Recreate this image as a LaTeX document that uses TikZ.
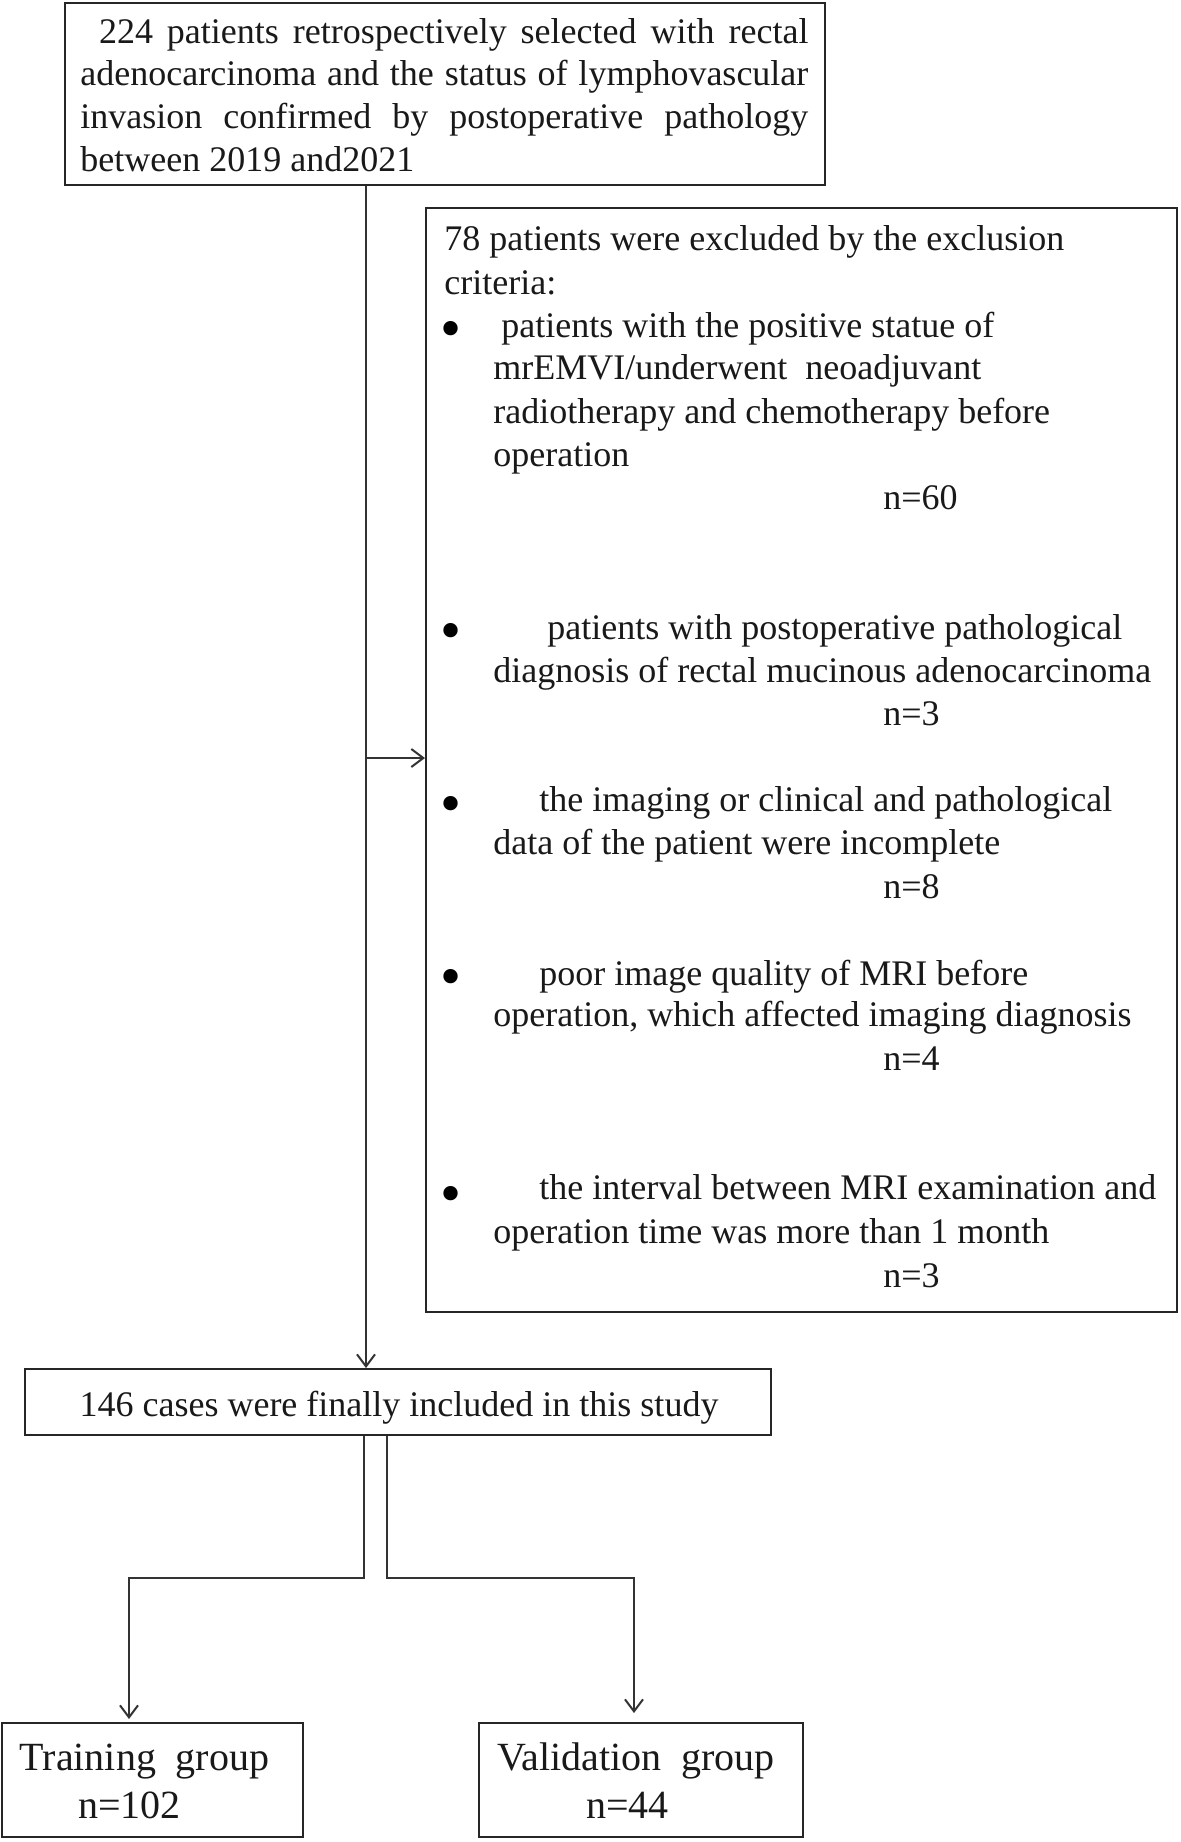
\documentclass[tikz,border=0pt]{standalone}
\usepackage{fontspec}
\setmainfont{Liberation Serif}
\usetikzlibrary{arrows.meta,calc}
\begin{document}
\begin{tikzpicture}[x=0.5pt,y=-0.5pt,
  box/.style={draw=black!85,line width=1pt,inner sep=0pt},
  txt/.style={anchor=base west,inner sep=0pt,text=black!90,font=\fontsize{18pt}{21.5pt}\selectfont},
  ctxt/.style={anchor=base,inner sep=0pt,text=black!90,font=\fontsize{18pt}{21.5pt}\selectfont},
  bigtxt/.style={anchor=base,inner sep=0pt,text=black!90,font=\fontsize{20pt}{24pt}\selectfont},
  bul/.style={anchor=center,inner sep=0pt,text=black,font=\fontsize{30pt}{30pt}\selectfont},
  arr/.style={draw=black!80,line width=1pt,-{Straight Barb[length=6pt,width=9pt]}}
]
\useasboundingbox (0,0) rectangle (1180,1842);
\fill[white] (0,0) rectangle (1180,1842);

% boxes
\node[box,minimum width=380pt,minimum height=91pt] (top) at (445,94) {};
\node[box,minimum width=375.5pt,minimum height=552pt] (excl) at (801.5,760) {};
\node[box,minimum width=373.2pt,minimum height=33pt] (inc) at (398,1402) {};
\node[box,minimum width=150.5pt,minimum height=57pt] (train) at (152.5,1780) {};
\node[box,minimum width=162pt,minimum height=57pt] (valid) at (641,1780) {};

% top box text
\node[txt] (t1) at (98.6,43) {\makebox[354.7pt][s]{224 patients retrospectively selected with rectal}};
\node[txt] (t2) at (80,85.5) {\makebox[364pt][s]{adenocarcinoma and the status of lymphovascular}};
\node[txt] (t3) at (80,128.5) {\makebox[364pt][s]{invasion confirmed by postoperative pathology}};
\node[txt] (t4) at (80,171.5) {between 2019 and2021};

% exclusion box text
\node[txt] (e1) at (444,250.5) {78 patients were excluded by the exclusion};
\node[txt] (e2) at (444,294.5) {criteria:};
\node[bul] (b1) at (451,335) {•};
\node[txt] (e3) at (501,337.5) {patients with the positive statue of};
\node[txt] (e4) at (493,379.5) {mrEMVI/underwent\ \ neoadjuvant};
\node[txt] (e5) at (493,423.5) {radiotherapy and chemotherapy before};
\node[txt] (e6) at (493,466.5) {operation};
\node[txt] (n1) at (883,509.5) {n=60};
\node[bul] (b2) at (451,637) {•};
\node[txt] (e7) at (547,639.5) {patients with postoperative pathological};
\node[txt] (e8) at (493,682.5) {diagnosis of rectal mucinous adenocarcinoma};
\node[txt] (n2) at (883,725.5) {n=3};
\node[bul] (b3) at (451,810) {•};
\node[txt] (e9) at (539,811) {the imaging or clinical and pathological};
\node[txt] (e10) at (493,854.5) {data of the patient were incomplete};
\node[txt] (n3) at (883,898) {n=8};
\node[bul] (b4) at (451,983) {•};
\node[txt] (e11) at (539,985.5) {poor image quality of MRI before};
\node[txt] (e12) at (493,1026.5) {operation, which affected imaging diagnosis};
\node[txt] (n4) at (883,1070.5) {n=4};
\node[bul] (b5) at (451,1200) {•};
\node[txt] (e13) at (539,1199.5) {the interval between MRI examination and};
\node[txt] (e14) at (493,1243) {operation time was more than 1 month};
\node[txt] (n5) at (883,1287) {n=3};

% included
\node[ctxt] (i1) at (399,1416.5) {146 cases were finally included in this study};

% groups
\node[bigtxt] (g1) at (144.5,1770.5) {Training\ \ group};
\node[bigtxt] (g2) at (129.5,1818.5) {n=102};
\node[bigtxt] (g3) at (636,1770.5) {Validation\ \ group};
\node[bigtxt] (g4) at (627.5,1818.5) {n=44};

% connectors
\coordinate (mx) at (366,0);
\coordinate (j) at (366,758);
\coordinate (lx) at (364,1578);
\coordinate (lt) at (129,1578);
\coordinate (rx) at (387,1578);
\coordinate (rt) at (634,1578);
\draw[arr] (top.south -| mx) -- (inc.north -| mx);
\draw[arr] (j) -- (j -| excl.west);
\draw[arr,shorten >=1.5pt] (inc.south -| lx) -- (lx) -- (lt) -- (lt |- train.north);
\draw[arr,shorten >=4.5pt] (inc.south -| rx) -- (rx) -- (rt) -- (rt |- valid.north);
\end{tikzpicture}
\end{document}
